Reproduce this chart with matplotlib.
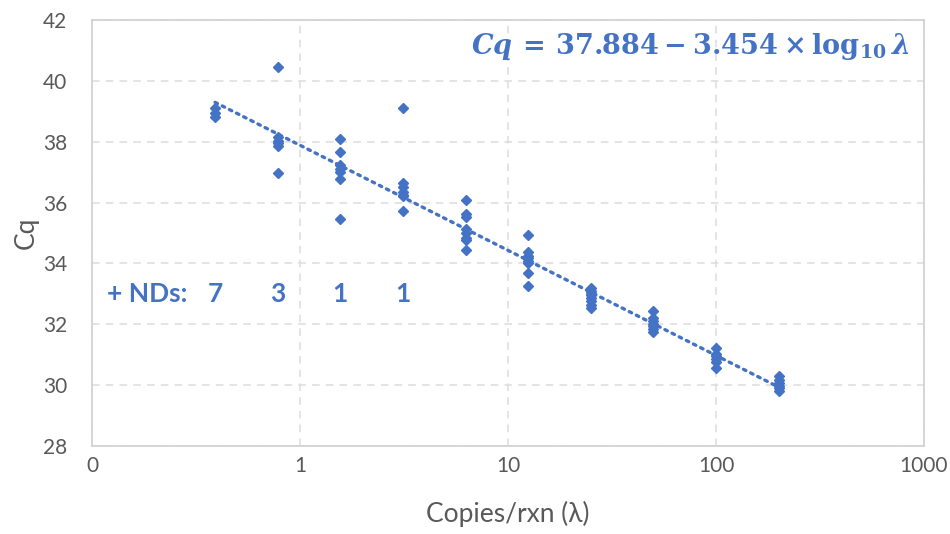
import matplotlib
matplotlib.use("Agg")
import matplotlib.pyplot as plt
import numpy as np

# ----------------------------------------------------------------------
# Data
# ----------------------------------------------------------------------
copies = [0.390625, 0.78125, 1.5625, 3.125, 6.25, 12.5, 25, 50, 100, 200]
cq_values = [
    [39.10, 38.95, 38.82],
    [40.45, 38.15, 38.02, 37.95, 37.85, 36.97],
    [38.10, 37.66, 37.22, 37.10, 37.00, 36.77, 35.46],
    [39.12, 36.65, 36.50, 36.36, 36.25, 36.20, 35.72],
    [36.10, 35.62, 35.54, 35.13, 35.00, 34.85, 34.78, 34.44],
    [34.93, 34.36, 34.25, 34.17, 34.08, 34.00, 33.68, 33.27],
    [33.20, 33.10, 33.02, 32.95, 32.85, 32.75, 32.65, 32.55],
    [32.45, 32.22, 32.10, 32.00, 31.93, 31.85, 31.75],
    [31.22, 31.02, 30.95, 30.85, 30.75, 30.56],
    [30.30, 30.18, 30.08, 29.98, 29.90, 29.82],
]
nd_copies = [0.390625, 0.78125, 1.5625, 3.125]
nd_counts = [7, 3, 1, 1]

intercept = 37.884
slope = -3.454

x_ticks = [0.1, 1, 10, 100, 1000]
x_ticklabels = ["0", "1", "10", "100", "1000"]
y_ticks = [28, 30, 32, 34, 36, 38, 40, 42]

blue = "#4472C4"
gray_text = "#595959"

plt.rcParams["font.family"] = ["Lato", "DejaVu Sans"]
plt.rcParams["mathtext.fontset"] = "custom"
plt.rcParams["mathtext.rm"] = "DejaVu Serif:bold"
plt.rcParams["mathtext.it"] = "DejaVu Serif:bold:italic"
plt.rcParams["mathtext.bf"] = "DejaVu Serif:bold"

fig = plt.figure(figsize=(9.5, 5.34), dpi=100)
ax = fig.add_axes([92 / 950, 88 / 534, 832 / 950, 426 / 534])

# scatter points
xs = []
ys = []
for c, vals in zip(copies, cq_values):
    xs += [c] * len(vals)
    ys += vals
ax.plot(xs, ys, linestyle="none", marker="D", markersize=5.5,
        color=blue, zorder=3)

# trendline from the fitted equation
xfit = np.logspace(np.log10(copies[0]), np.log10(copies[-1]), 100)
ax.plot(xfit, intercept + slope * np.log10(xfit), color=blue,
        linestyle=(0, (0.8, 1.6)), linewidth=2.4, dash_capstyle="round",
        zorder=2)

ax.set_xscale("log")
ax.set_xlim(0.1, 1000)
ax.set_ylim(28, 42)
ax.set_xticks(x_ticks)
ax.set_xticklabels(x_ticklabels)
ax.minorticks_off()
ax.set_yticks(y_ticks)
ax.tick_params(length=0, labelsize=15, colors=gray_text)
ax.tick_params(axis="y", pad=18)
ax.tick_params(axis="x", pad=7)

ax.grid(True, color="#DCDCDC", linestyle=(0, (5, 4)), linewidth=1.1)
ax.set_axisbelow(True)
for s in ax.spines.values():
    s.set_color("#D0D0D0")
    s.set_linewidth(1.2)

ax.set_ylabel("Cq", fontsize=19, color=gray_text, labelpad=3)
ax.set_xlabel("Copies/rxn (λ)", fontsize=19, color=gray_text,
              labelpad=18)

# equation
ax.text(0.982, 0.937,
        r"$Cq\,=\,37.884-3.454\times\mathrm{log}_{10}\,\lambda$",
        transform=ax.transAxes, ha="right", va="center",
        fontsize=19.5, color=blue)

# non-detect counts
ax.text(0.018, 33.0, "+ NDs:", transform=ax.get_yaxis_transform(),
        ha="left", va="center", fontsize=19, fontweight="bold", color=blue)
for c, n in zip(nd_copies, nd_counts):
    ax.text(c, 33.0, str(n), ha="center", va="center", fontsize=19,
            fontweight="bold", color=blue)

fig.savefig("out.png", dpi=100)
